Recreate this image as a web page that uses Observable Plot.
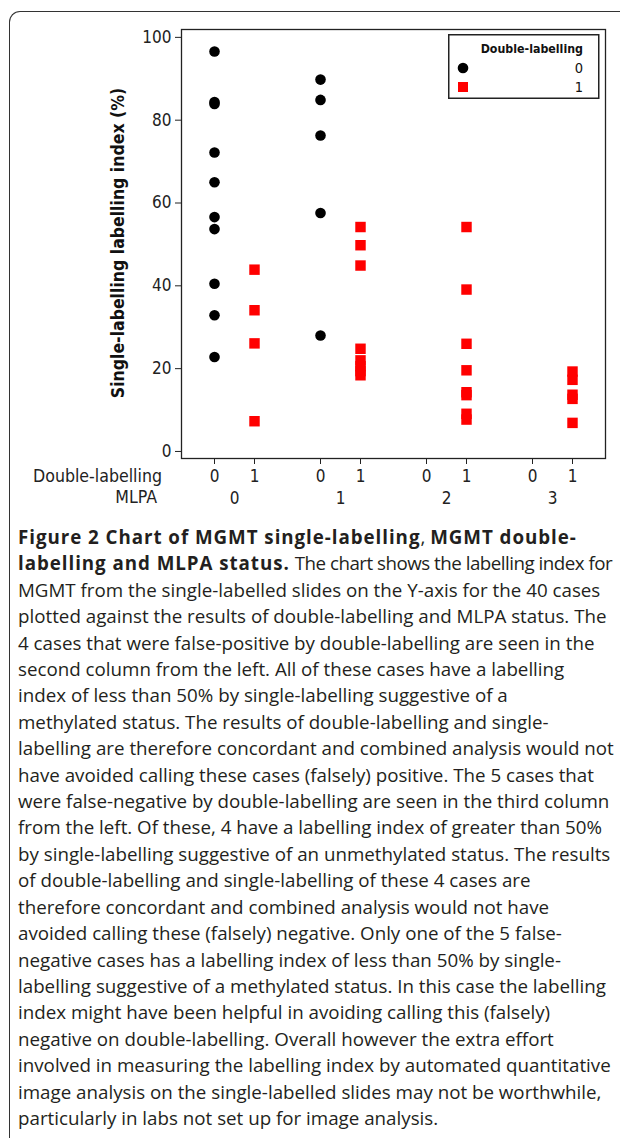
<!DOCTYPE html>
<html>
<head>
<meta charset="utf-8">
<script src="https://cdn.jsdelivr.net/npm/d3@7"></script>
<script src="https://cdn.jsdelivr.net/npm/@observablehq/plot@0.6"></script>
<style>
  body { margin: 0; background: #fff; }
  #page { position: relative; width: 620px; height: 1138px; overflow: hidden; }
  #box { position: absolute; left: 9px; top: 11px; width: 700px; height: 1300px;
         border-left: 1.6px solid #333; border-top: 1.6px solid #333; border-top-left-radius: 11px; }
  #chart { position: absolute; left: 0; top: 0; }
  .cf { font-family: "DejaVu Sans Condensed", "DejaVu Sans", sans-serif; font-stretch: condensed; }
  .rowlab { position: absolute; font-size: 17.6px; color: #222; white-space: nowrap; line-height: 20px; }
  #ylab { position: absolute; left: 118px; top: 243px; transform: translate(-50%, -50%) rotate(-90deg);
          font-size: 17.5px; font-weight: bold; color: #111; white-space: nowrap; }
  #legend { position: absolute; left: 448px; top: 34px; }
  #caption { position: absolute; left: 18px; top: 524px; font-family: "Open Sans", sans-serif;
             font-size: 18.75px; line-height: 26.4px; color: #231f20; }
  #caption div { white-space: nowrap; }
  #caption b { letter-spacing: 0.95px; }
  #caption .tight { letter-spacing: -0.5px; }
</style>
</head>
<body>
<div id="page">
  <div id="box"></div>
  <div id="chart"></div>
  <div id="ylab" class="cf"></div>
  <div class="rowlab cf" id="lab1" style="right:458px; top:466px;"></div>
  <div class="rowlab cf" id="lab2" style="right:463px; top:487px;"></div>
  <svg id="legend" class="cf" width="152" height="66"></svg>
  <div id="caption"></div>
</div>
<script>
// ---- data ----
const mlpaLevels = [0, 1, 2, 3];
const doubleLevels = [0, 1];
const yTicks = [0, 20, 40, 60, 80, 100];
const seriesColors = ["#000000", "#ff0000"];
const yLabel = "Single-labelling labelling index (%)";
const xRowLabel = "Double-labelling";
const fxRowLabel = "MLPA";
const legendTitle = "Double-labelling";

// Single-labelling index (%) for each MLPA / double-labelling column
const mlpa0_dl0 = [96.6, 84.4, 83.9, 72.2, 65.0, 56.6, 53.7, 40.5, 32.9, 22.8];
const mlpa0_dl1 = [43.9, 34.1, 26.1, 7.3];
const mlpa1_dl0 = [89.8, 84.9, 76.3, 57.6, 28.0];
const mlpa1_dl1 = [54.2, 49.8, 44.9, 24.8, 22.0, 20.6, 19.4, 18.4];
const mlpa2_dl1 = [54.2, 39.1, 26.0, 19.6, 14.3, 13.6, 9.1, 7.7];
const mlpa3_dl1 = [19.3, 17.3, 13.7, 12.7, 6.9];

const groups = [
  { mlpa: 0, dl: 0, values: mlpa0_dl0 },
  { mlpa: 0, dl: 1, values: mlpa0_dl1 },
  { mlpa: 1, dl: 0, values: mlpa1_dl0 },
  { mlpa: 1, dl: 1, values: mlpa1_dl1 },
  { mlpa: 2, dl: 1, values: mlpa2_dl1 },
  { mlpa: 3, dl: 1, values: mlpa3_dl1 }
];
const rows = groups.flatMap(g => g.values.map(v => ({ mlpa: g.mlpa, dl: g.dl, index: v })));

const captionLines = [
  '<b>Figure 2 Chart of MGMT single-labelling</b>, <b>MGMT double-</b>',
  '<b>labelling and MLPA status.</b> <span class="tight">The chart shows the labelling index for</span>',
  'MGMT from the single-labelled slides on the Y-axis for the 40 cases',
  'plotted against the results of double-labelling and MLPA status. The',
  '4 cases that were false-positive by double-labelling are seen in the',
  'second column from the left. All of these cases have a labelling',
  'index of less than 50% by single-labelling suggestive of a',
  'methylated status. The results of double-labelling and single-',
  'labelling are therefore concordant and combined analysis would not',
  'have avoided calling these cases (falsely) positive. The 5 cases that',
  'were false-negative by double-labelling are seen in the third column',
  'from the left. Of these, 4 have a labelling index of greater than 50%',
  'by single-labelling suggestive of an unmethylated status. The results',
  'of double-labelling and single-labelling of these 4 cases are',
  'therefore concordant and combined analysis would not have',
  'avoided calling these (falsely) negative. Only one of the 5 false-',
  'negative cases has a labelling index of less than 50% by single-',
  'labelling suggestive of a methylated status. In this case the labelling',
  'index might have been helpful in avoiding calling this (falsely)',
  'negative on double-labelling. Overall however the extra effort',
  'involved in measuring the labelling index by automated quantitative',
  'image analysis on the single-labelled slides may not be worthwhile,',
  'particularly in labs not set up for image analysis.'
];

// ---- chart ----
const H = 520;
const chart = Plot.plot({
  width: 620,
  height: H,
  marginLeft: 179,
  marginRight: 14,
  marginTop: 29,
  marginBottom: H - 458,
  style: { fontFamily: '"DejaVu Sans Condensed", "DejaVu Sans", sans-serif', fontSize: "17px", color: "#222", background: "transparent" },
  fx: { domain: mlpaLevels, padding: 0 },
  x: { type: "point", domain: doubleLevels, padding: 0.8 },
  y: { domain: [-1.7, 101.9] },
  marks: [
    Plot.frame({ facet: "super", stroke: "#222", strokeWidth: 1.3 }),
    Plot.axisY({ ticks: yTicks, tickSize: 6, tickPadding: 4, label: null }),
    Plot.axisX({ ticks: doubleLevels, tickSize: 6, tickPadding: 5, label: null }),
    Plot.axisFx({ anchor: "bottom", tickSize: 0, tickPadding: 33, label: null }),
    Plot.dot(rows.filter(d => d.dl === 0), { fx: "mlpa", x: "dl", y: "index", r: 5.3, symbol: "circle", fill: seriesColors[0] }),
    Plot.dot(rows.filter(d => d.dl === 1), { fx: "mlpa", x: "dl", y: "index", r: 5.9, symbol: "square", fill: seriesColors[1] })
  ]
});
chart.querySelectorAll("text").forEach(t => { t.style.fontStretch = "condensed"; });
document.getElementById("chart").appendChild(chart);

document.getElementById("ylab").textContent = yLabel;
document.getElementById("lab1").textContent = xRowLabel;
document.getElementById("lab2").textContent = fxRowLabel;

// ---- legend ----
const lg = d3.select("#legend");
lg.append("rect").attr("x", 0.75).attr("y", 0.75).attr("width", 150).attr("height", 63.5)
  .attr("fill", "#fff").attr("stroke", "#222").attr("stroke-width", 1.5);
lg.append("text").attr("x", 135).attr("y", 19).attr("text-anchor", "end")
  .attr("font-weight", "bold").attr("font-size", 12.3).attr("fill", "#111").text(legendTitle);
lg.append("circle").attr("cx", 15).attr("cy", 34).attr("r", 5.3).attr("fill", seriesColors[0]);
lg.append("rect").attr("x", 10).attr("y", 48).attr("width", 10).attr("height", 10).attr("fill", seriesColors[1]);
doubleLevels.forEach((v, i) => {
  lg.append("text").attr("x", 135).attr("y", 34 + i * 19).attr("dy", "0.36em").attr("text-anchor", "end")
    .attr("font-size", 14.5).attr("fill", "#111").text(v);
});

// ---- caption ----
document.getElementById("caption").innerHTML = captionLines.map(l => `<div>${l}</div>`).join("");
</script>
</body>
</html>
